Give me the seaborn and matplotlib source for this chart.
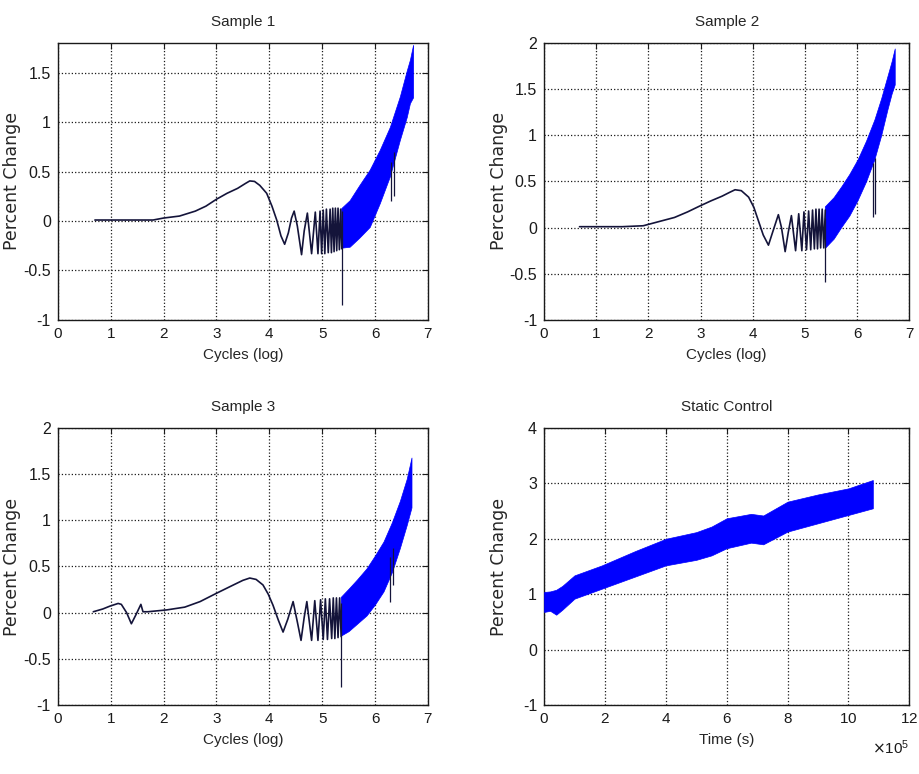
# Recreacion de los 4 paneles (Sample 1-3 + Static Control) estilo MATLAB
import numpy as np
import matplotlib
matplotlib.use("Agg")
import matplotlib.pyplot as plt
import matplotlib.ticker as mticker
import seaborn as sns

sns.set_theme(style="white")
plt.rcParams['font.family'] = ['Liberation Sans', 'DejaVu Sans']

# ---------------------------------------------------------------
# Datos
# ---------------------------------------------------------------
# Sample 1: traza fina (hasta ~5.37) + banda azul (envolventes)
s1_x = [0.70, 1.00, 1.50, 1.80, 2.00, 2.30, 2.60, 2.80, 3.00, 3.20,
        3.40, 3.55, 3.63, 3.72, 3.82, 3.95, 4.05, 4.14, 4.22, 4.29,
        4.36, 4.42, 4.47, 4.53, 4.61, 4.66, 4.72, 4.80, 4.87, 4.92,
        4.96, 4.99, 5.02, 5.05, 5.08, 5.115, 5.15, 5.175, 5.20, 5.225,
        5.25, 5.275, 5.30, 5.325, 5.35, 5.37]
s1_y = [0.01, 0.01, 0.01, 0.01, 0.03, 0.05, 0.10, 0.15, 0.22, 0.28,
        0.33, 0.38, 0.405, 0.40, 0.36, 0.28, 0.15, 0.01, -0.15, -0.235,
        -0.12, 0.03, 0.10, -0.05, -0.34, -0.10, 0.08, -0.33, 0.09, -0.33,
        0.10, -0.33, 0.11, -0.33, 0.12, -0.32, 0.12, -0.32, 0.13, -0.31,
        0.13, -0.30, 0.13, -0.29, 0.12, -0.28]
s1_band_x = [5.36, 5.52, 5.70, 5.90, 6.09, 6.28, 6.47, 6.60, 6.66, 6.72]
s1_band_lo = [-0.27, -0.26, -0.17, -0.06, 0.18, 0.45, 0.82, 1.05, 1.19, 1.25]
s1_band_hi = [0.13, 0.21, 0.36, 0.52, 0.72, 0.95, 1.26, 1.52, 1.63, 1.78]
s1_spike_x = [5.37, 6.30, 6.36]
s1_spike_lo = [-0.85, 0.20, 0.25]
s1_spike_hi = [0.10, 0.60, 0.70]

# Sample 2
s2_x = [0.68, 1.00, 1.50, 1.90, 2.20, 2.50, 2.75, 2.97, 3.20, 3.41,
        3.55, 3.66, 3.78, 3.92, 4.02, 4.11, 4.20, 4.30, 4.38, 4.49,
        4.55, 4.62, 4.68, 4.74, 4.82, 4.88, 4.94, 4.98, 5.03, 5.07,
        5.11, 5.145, 5.18, 5.21, 5.24, 5.27, 5.30, 5.33, 5.36, 5.39]
s2_y = [0.01, 0.01, 0.01, 0.02, 0.065, 0.11, 0.17, 0.23, 0.29, 0.34,
        0.38, 0.41, 0.40, 0.33, 0.22, 0.07, -0.08, -0.19, -0.05, 0.14,
        0.00, -0.26, -0.05, 0.13, -0.25, 0.15, -0.25, 0.17, -0.24, 0.18,
        -0.24, 0.19, -0.23, 0.20, -0.23, 0.20, -0.22, 0.20, -0.22, 0.19]
s2_band_x = [5.38, 5.55, 5.70, 5.85, 6.01, 6.17, 6.33, 6.46, 6.58, 6.66, 6.72]
s2_band_lo = [-0.22, -0.12, 0.01, 0.13, 0.30, 0.50, 0.74, 1.00, 1.28, 1.45, 1.55]
s2_band_hi = [0.23, 0.33, 0.45, 0.58, 0.74, 0.94, 1.17, 1.40, 1.64, 1.80, 1.94]
s2_spike_x = [5.39, 6.31, 6.35]
s2_spike_lo = [-0.59, 0.12, 0.15]
s2_spike_hi = [0.10, 0.70, 0.75]

# Sample 3
s3_x = [0.67, 0.85, 0.98, 1.14, 1.20, 1.30, 1.39, 1.47, 1.52, 1.57,
        1.61, 1.70, 2.06, 2.40, 2.69, 3.00, 3.32, 3.50, 3.63, 3.75,
        3.88, 3.98, 4.07, 4.17, 4.26, 4.35, 4.45, 4.53, 4.60, 4.66,
        4.71, 4.80, 4.86, 4.92, 4.97, 5.02, 5.06, 5.10, 5.14, 5.18,
        5.21, 5.24, 5.27, 5.30, 5.33, 5.36]
s3_y = [0.01, 0.04, 0.07, 0.10, 0.09, 0.00, -0.12, -0.03, 0.03, 0.09,
        0.01, 0.01, 0.03, 0.06, 0.12, 0.21, 0.30, 0.35, 0.375, 0.36,
        0.30, 0.20, 0.08, -0.08, -0.21, -0.07, 0.12, -0.10, -0.30, -0.05,
        0.12, -0.30, 0.13, -0.30, 0.14, -0.29, 0.15, -0.29, 0.15, -0.28,
        0.16, -0.28, 0.16, -0.27, 0.16, -0.26]
s3_band_x = [5.35, 5.50, 5.66, 5.84, 6.00, 6.16, 6.32, 6.47, 6.60, 6.69]
s3_band_lo = [-0.25, -0.20, -0.12, -0.03, 0.09, 0.23, 0.44, 0.70, 0.95, 1.14]
s3_band_hi = [0.17, 0.26, 0.36, 0.48, 0.62, 0.77, 0.98, 1.21, 1.45, 1.68]
s3_spike_x = [5.36, 6.28, 6.34]
s3_spike_lo = [-0.81, 0.12, 0.30]
s3_spike_hi = [0.10, 0.60, 0.70]

# Static Control (tiempo en segundos)
sc_t = [0, 0.2e5, 0.4e5, 0.6e5, 1.0e5, 1.9e5, 3.0e5, 4.0e5, 5.0e5, 5.5e5,
        6.0e5, 6.8e5, 7.2e5, 8.0e5, 9.0e5, 10.0e5, 10.8e5]
sc_lo = [0.68, 0.70, 0.63, 0.72, 0.92, 1.10, 1.32, 1.52, 1.62, 1.70,
         1.83, 1.93, 1.90, 2.13, 2.28, 2.43, 2.55]
sc_hi = [1.04, 1.05, 1.08, 1.15, 1.34, 1.52, 1.78, 2.00, 2.12, 2.22,
         2.37, 2.45, 2.42, 2.67, 2.80, 2.91, 3.06]

titles = ["Sample 1", "Sample 2", "Sample 3", "Static Control"]

# ---------------------------------------------------------------
# Figura y ejes (posiciones fijas como en MATLAB)
# ---------------------------------------------------------------
fig = plt.figure(figsize=(9.19, 7.74), dpi=100)
fig.patch.set_facecolor("white")
positions = [[0.063, 0.5866, 0.4026, 0.358],
             [0.592, 0.5866, 0.3975, 0.358],
             [0.063, 0.0891, 0.4026, 0.358],
             [0.592, 0.0891, 0.3975, 0.358]]
axes = [fig.add_axes(p) for p in positions]

line_col = "#14143a"
band_col = "#0000ff"


def estilo_matlab(ax, title, xlabel):
    ax.set_title(title, fontsize=11, pad=12)
    ax.set_xlabel(xlabel, fontsize=11, labelpad=5)
    ax.set_ylabel("Percent Change", fontsize=12.5, family=['DejaVu Sans'])
    ax.yaxis.set_label_coords(-0.1, 0.5)
    ax.grid(True, linestyle=':', color='k', linewidth=0.9)
    ax.tick_params(direction='in', top=True, right=True, length=4,
                   width=0.8, labelsize=11.5, pad=5, colors='k')
    ax.tick_params(axis='x', labelsize=11)
    for s in ax.spines.values():
        s.set_color('k')
        s.set_linewidth(1.0)
        s.set_visible(True)


samples = [(s1_x, s1_y, s1_band_x, s1_band_lo, s1_band_hi, s1_spike_x, s1_spike_lo, s1_spike_hi, 1.8),
           (s2_x, s2_y, s2_band_x, s2_band_lo, s2_band_hi, s2_spike_x, s2_spike_lo, s2_spike_hi, 2.0),
           (s3_x, s3_y, s3_band_x, s3_band_lo, s3_band_hi, s3_spike_x, s3_spike_lo, s3_spike_hi, 2.0)]

for ax, title, data in zip([axes[0], axes[1], axes[2]], titles[:3], samples):
    x, y, bx, blo, bhi, spx, splo, sphi, ytop = data
    ax.fill_between(bx, blo, bhi, color=band_col, linewidth=0.5, zorder=3)
    sns.lineplot(x=x, y=y, ax=ax, sort=False, estimator=None,
                 color=line_col, linewidth=1.2, zorder=4)
    ax.vlines(spx, splo, sphi, color=line_col, linewidth=0.9, zorder=4)
    ax.set_xlim(0, 7)
    ax.set_ylim(-1, ytop)
    ax.set_xticks(range(0, 8))
    ax.set_yticks(np.arange(-1, ytop + 0.01, 0.5))
    ax.yaxis.set_major_formatter(mticker.FormatStrFormatter('%g'))
    estilo_matlab(ax, title, "Cycles (log)")

# Static Control
ax = axes[3]
ax.fill_between(sc_t, sc_lo, sc_hi, color=band_col, linewidth=0.5, zorder=3)
ax.set_xlim(0, 12e5)
ax.set_ylim(-1, 4)
ax.set_xticks(np.arange(0, 12.01e5, 2e5))
ax.set_yticks(range(-1, 5))
fmt = mticker.ScalarFormatter(useMathText=True)
fmt.set_powerlimits((5, 5))
ax.xaxis.set_major_formatter(fmt)
ax.yaxis.set_major_formatter(mticker.FormatStrFormatter('%g'))
estilo_matlab(ax, titles[3], "Time (s)")
ax.xaxis.get_offset_text().set_fontsize(11)
ax.xaxis.OFFSETTEXTPAD = 9

plt.savefig("out.png", dpi=100, facecolor="white")
